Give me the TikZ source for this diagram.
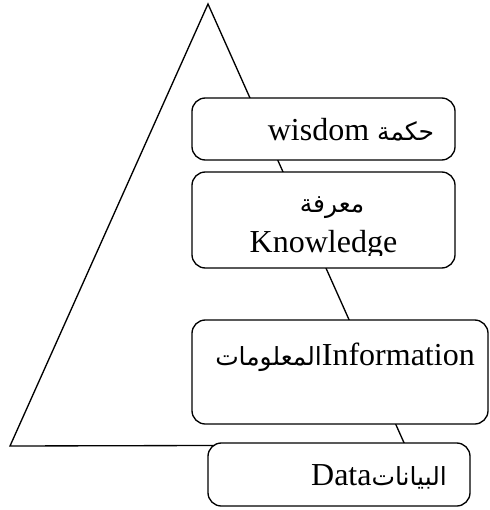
\documentclass[tikz,border=0pt]{standalone}
\usepackage{fontspec}
\setmainfont{Liberation Serif}
\newfontfamily\arabicfont[Script=Arabic,Scale=0.78]{DejaVu Sans}
\TeXXeTstate=1
\usetikzlibrary{positioning}

\begin{document}
\begin{tikzpicture}
  [x=0.75pt,y=-0.75pt,line width=1pt,
   box/.style={draw,rounded corners=10pt,fill=white,inner sep=0pt},
   txt/.style={anchor=base,inner sep=0pt,font=\fontsize{24}{28}\selectfont}]
  \useasboundingbox (0,0) rectangle (489,510);
  % pyramid
  \coordinate (apex) at (208,4);
  \coordinate (bl) at (10,446);
  \coordinate (br) at (405,445);
  \draw (bl) -- (apex) -- (br) -- cycle;
  % levels
  \node[box,minimum width=197.25pt,minimum height=46.5pt] (wisdom) at (323.5,129) {};
  \node[box,minimum width=197.25pt,minimum height=72pt] (knowledge) at (323.5,220) {};
  \node[box,minimum width=222pt,minimum height=78pt] (information) at (340,372) {};
  \node[box,minimum width=196.5pt,minimum height=47.25pt] (data) at (339,474.5) {};
  % labels
  \node[txt] (t-wisdom) at (351,140) {wisdom {\arabicfont\beginR حكمة\endR}};
  \node[txt] (t-ma3rifa) at (332,212) {\arabicfont\beginR معرفة\endR};
  \begin{scope}
    \clip (192,222) rectangle (455,255);
    \node[txt] (t-knowledge) at (323.5,252) {Knowledge};
  \end{scope}
  \node[txt] (t-information) at (345,365) {{\arabicfont\beginR المعلومات\endR}Information};
  \node[txt] (t-data) at (379,485) {Data{\arabicfont\beginR البيانات\endR}};
\end{tikzpicture}
\end{document}
